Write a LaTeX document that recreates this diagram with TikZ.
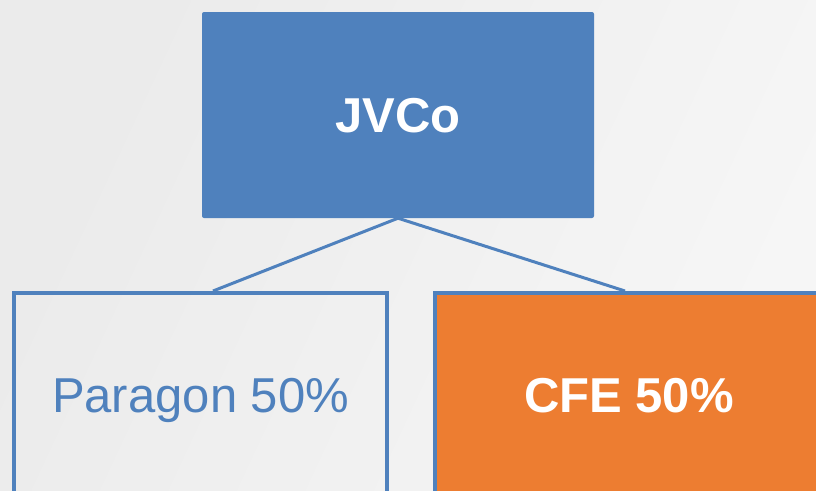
\documentclass[tikz,border=0pt]{standalone}
\usepackage{fontspec}
\setmainfont{Liberation Sans}
\begin{document}
\begin{tikzpicture}[x=1pt,y=-1pt,
  boxtext/.style={font=\fontsize{49}{55}\selectfont, text height=35pt, text depth=0pt, inner sep=0pt},
  topbox/.style={boxtext, fill=jvblue, draw=none, rounded corners=2pt, font=\fontsize{49}{55}\selectfont\bfseries, text=white},
  outlinebox/.style={boxtext, draw=jvblue, line width=4pt, text=jvblue},
  orangebox/.style={boxtext, draw=jvblue, fill=cfeorange, line width=4pt, text=white, font=\fontsize{49}{55}\selectfont\bfseries},
  connector/.style={draw=jvblue, line width=3pt}]
\definecolor{jvblue}{HTML}{4F81BD}
\definecolor{cfeorange}{HTML}{ED7D31}
\useasboundingbox (0,0) rectangle (816,490);
\clip (0,0) rectangle (816,490);
\shade[left color=black!8, right color=black!3.5, shading angle=65] (0,0) rectangle (816,490);
\node[topbox, minimum width=392pt, minimum height=206pt] (jv) at (398,115) {JVCo};
\node[outlinebox, minimum width=373pt, minimum height=204pt] (par) at (200.5,395) {Paragon 50\%};
\node[orangebox, minimum width=388pt, minimum height=204pt] (cfe) at (629,395) {CFE 50\%};
\draw[connector] (jv.south) -- ([xshift=12.5pt]par.north);
\draw[connector] (jv.south) -- ([xshift=-4pt]cfe.north);
\end{tikzpicture}
\end{document}
